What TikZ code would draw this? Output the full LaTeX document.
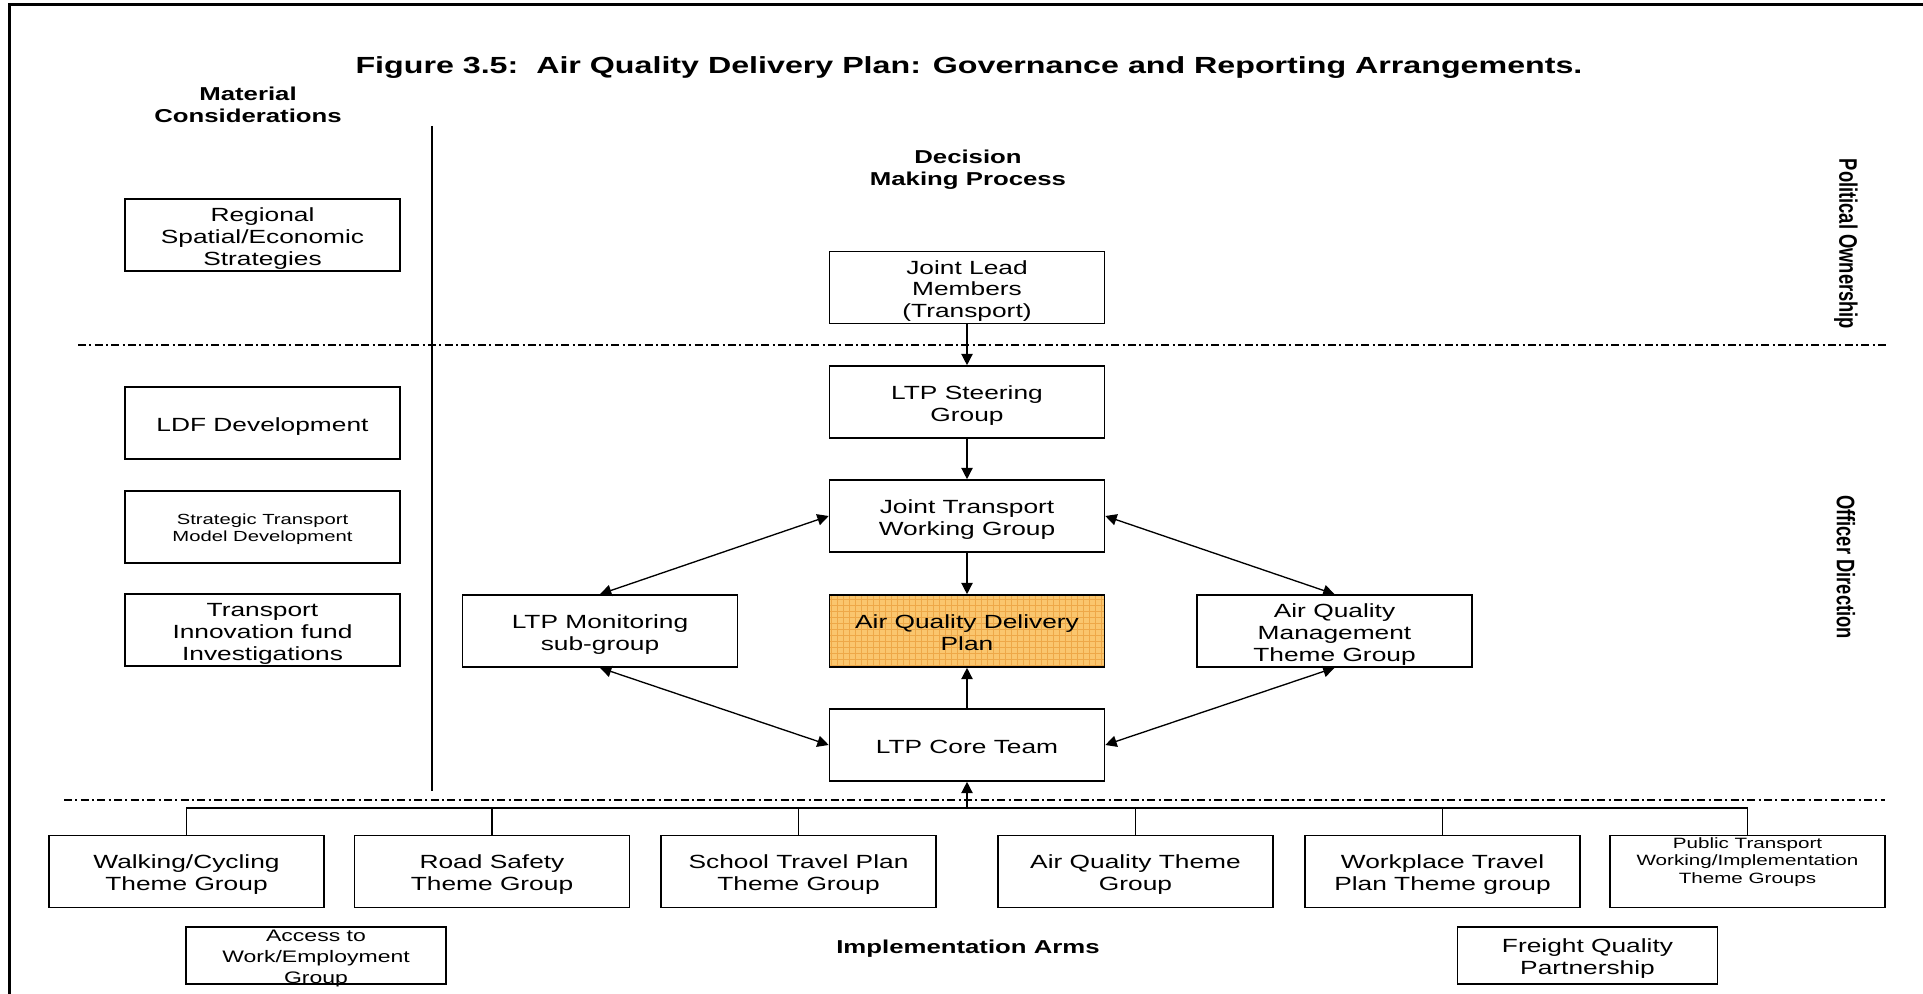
\documentclass[tikz,border=0pt]{standalone}
\usepackage{fontspec}
\setmainfont{Liberation Sans}[FakeStretch=1.38]
\newfontfamily\rotfont{Liberation Sans}[FakeStretch=0.725]
\usetikzlibrary{arrows.meta}
\definecolor{aqfill}{RGB}{250,198,110}
\definecolor{aqgrid}{RGB}{238,168,72}
\newcommand\boxtxt[2][3pt]{\raisebox{-#1}[\height][\depth]{\begin{tabular}{@{}c@{}}#2\end{tabular}}}
\tikzset{
  box/.style={draw, line width=1.2pt, minimum width=206.25pt, minimum height=54pt,
    inner sep=0pt, font=\fontsize{14.3}{16.3}\selectfont},
  smallbox/.style={box, font=\fontsize{11}{12.5}\selectfont},
  lowbox/.style={box, minimum width=195pt, minimum height=42.75pt},
  gridfill/.style={fill=aqfill, path picture={
    \draw[aqgrid, line width=0.6pt] (path picture bounding box.south west)
      grid[step=4.5pt] (path picture bounding box.north east);}},
  head/.style={align=center, inner sep=0pt, font=\fontsize{14}{16.5}\selectfont\bfseries},
  plain/.style={inner sep=0pt, align=center},
  arr/.style={line width=1pt, -{Triangle[length=8.5pt,width=8.5pt]}},
  darr/.style={line width=1pt, {Triangle[length=8.5pt,width=8.5pt]}-{Triangle[length=8.5pt,width=8.5pt]}},
  conn/.style={line width=1pt},
  sepline/.style={line width=1pt, dash pattern=on 6pt off 2.5pt on 1.5pt off 2.5pt},
  side/.style={rotate=-90, inner sep=0pt, font=\fontsize{19}{20}\selectfont\rotfont\bfseries}
}
\begin{document}
\begin{tikzpicture}[x=0.75pt,y=-0.75pt]
\useasboundingbox (0,0) rectangle (1923,994);
% frame
\draw[line width=2.25pt] (9,994) -- (9,5) -- (1923,5);
% title and headings
\node[plain, font=\fontsize{17.5}{20}\selectfont\bfseries] (title) at (969,68)
  {Figure 3.5:\ \ Air Quality Delivery Plan: Governance and Reporting Arrangements.};
\node[head] (mat) at (248,104.5) {Material\\Considerations};
\node[head] (dec) at (968,169.5) {Decision\\Making Process};
\node[head] (impl) at (968,948.5) {Implementation Arms};
\node[side] (pol) at (1846,244) {Political Ownership};
\node[side] (off) at (1846,567) {Officer Direction};
% separators
\draw[line width=1pt] (432,126) -- (432,791);
\draw[sepline] (78,345) -- (1889,345);
\draw[sepline] (64,800) -- (1885,800);
% left column
\node[box] (reg) at (262.5,235) {\boxtxt{Regional\\Spatial/Economic\\Strategies}};
\node[box] (ldf) at (262.5,423) {\boxtxt{LDF Development}};
\node[smallbox] (stm) at (262.5,527) {\boxtxt[2pt]{Strategic Transport\\Model Development}};
\node[box] (tif) at (262.5,630) {\boxtxt{Transport\\Innovation fund\\Investigations}};
% centre column
\node[box] (jlm) at (967,287.5) {\boxtxt{Joint Lead\\Members\\(Transport)}};
\node[box] (lsg) at (967,402) {\boxtxt{LTP Steering\\Group}};
\node[box] (jtw) at (967,516) {\boxtxt{Joint Transport\\Working Group}};
\node[box, gridfill] (aqd) at (967,631) {\boxtxt{Air Quality Delivery\\Plan}};
\node[box] (core) at (967,745) {\boxtxt{LTP Core Team}};
\node[box] (mon) at (600,631) {\boxtxt{LTP Monitoring\\sub-group}};
\node[box] (aqm) at (1334.5,631) {\boxtxt{Air Quality\\Management\\Theme Group}};
% arrows
\draw[arr] (jlm) -- (lsg);
\draw[arr] (lsg) -- (jtw);
\draw[arr] (jtw) -- (aqd);
\draw[arr] (core) -- (aqd);
\draw[darr] (jtw.west) -- (mon.north);
\draw[darr] (jtw.east) -- (aqm.north);
\draw[darr] (mon.south) -- (core.west);
\draw[darr] (aqm.south) -- (core.east);
% implementation row
\node[box] (wc) at (186.5,871.5) {\boxtxt{Walking/Cycling\\Theme Group}};
\node[box] (rs) at (492,871.5) {\boxtxt{Road Safety\\Theme Group}};
\node[box] (st) at (798.5,871.5) {\boxtxt{School Travel Plan\\Theme Group}};
\node[box] (aqt) at (1135.5,871.5) {\boxtxt{Air Quality Theme\\Group}};
\node[box] (wp) at (1442.5,871.5) {\boxtxt{Workplace Travel\\Plan Theme group}};
\node[box] (pt) at (1747.5,871.5) {};
\node[plain, font=\fontsize{11.2}{12.9}\selectfont] (ptt) at (1747.5,862) {Public Transport\\Working/Implementation\\Theme Groups};
\coordinate (bus) at (967,808);
\draw[conn] (wc.north) -- (wc.north |- bus) -- (pt.north |- bus) -- (pt.north);
\draw[conn] (rs.north) -- (rs.north |- bus);
\draw[conn] (st.north) -- (st.north |- bus);
\draw[conn] (aqt.north) -- (aqt.north |- bus);
\draw[conn] (wp.north) -- (wp.north |- bus);
\draw[arr] (bus) -- (core.south);
% bottom boxes
\node[lowbox] (acc) at (316,955.5) {};
\node[plain, font=\fontsize{12.5}{15.5}\selectfont] (acct) at (316,958.5) {Access to\\Work/Employment\\Group};
\node[lowbox] (fqp) at (1587.5,955.5) {\boxtxt{Freight Quality\\Partnership}};
\end{tikzpicture}
\end{document}
